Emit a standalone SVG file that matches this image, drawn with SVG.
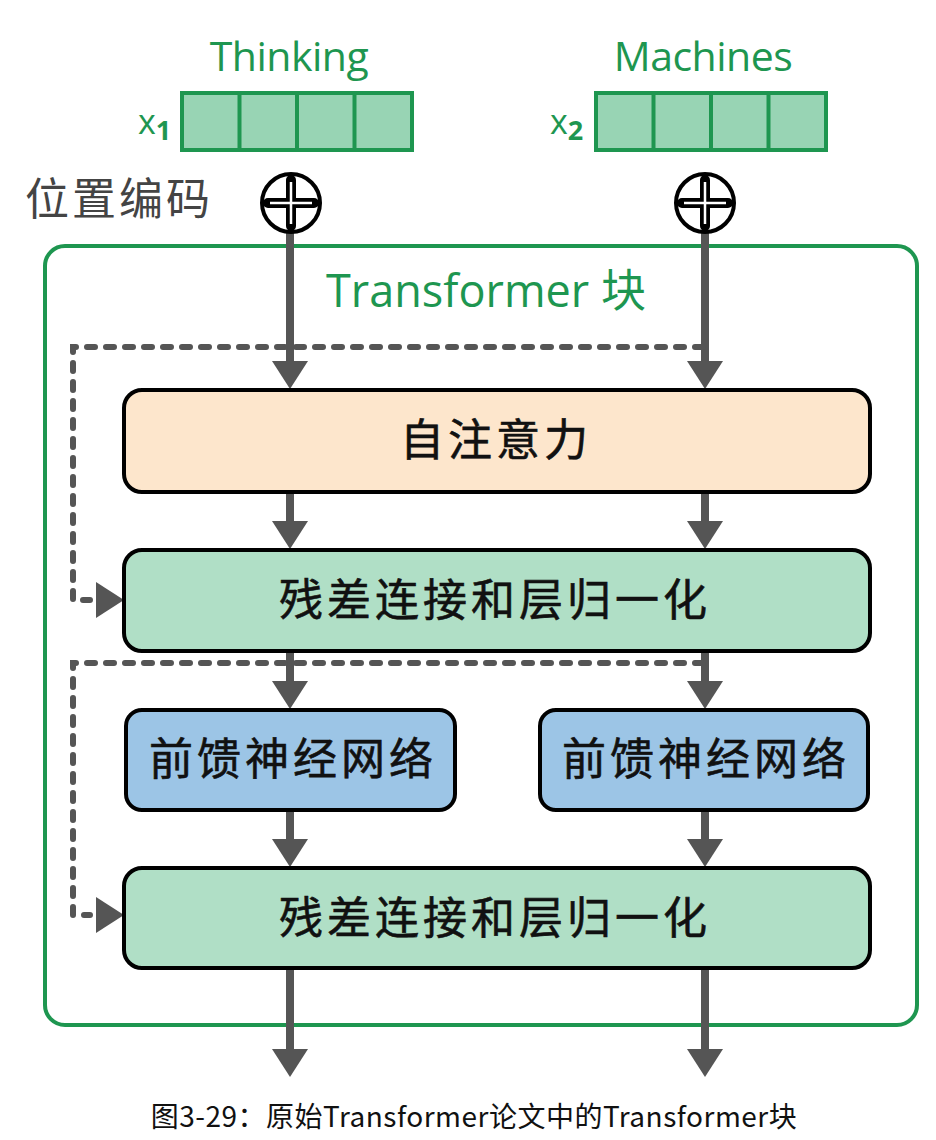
<svg xmlns="http://www.w3.org/2000/svg" width="936" height="1140" viewBox="0 0 936 1140">
<style>
.lat{font-family:"Open Sans","Noto Sans",sans-serif;fill:#1e9650}
.cjk{font-family:"Noto Sans CJK SC","Noto Sans",sans-serif}
.box{stroke:#000;stroke-width:4}
.vec{fill:#98d4b4;stroke:#1e9650;stroke-width:4}
.flow{stroke:#555;stroke-width:8;fill:none}
.dash{stroke:#555;stroke-width:6;fill:none;stroke-dasharray:8 11;stroke-linecap:round}
.lbl{font-size:44px;fill:#111;text-anchor:middle;letter-spacing:4px;stroke:#111;stroke-width:0.6px}
</style>
<defs>
<marker id="ah" markerUnits="userSpaceOnUse" viewBox="0 0 28 36" markerWidth="28" markerHeight="36" refX="1" refY="18" orient="auto">
<path d="M0,0 L28,18 L0,36 z" fill="#555"/>
</marker>
</defs>
<rect width="936" height="1140" fill="#fff"/>

<g id="input1">
<text class="lat" x="289" y="71" font-size="41" text-anchor="middle" letter-spacing="-0.5">Thinking</text>
<text class="lat" x="138" y="134" font-size="34">x<tspan font-size="27" font-weight="bold" dy="6">1</tspan></text>
<rect class="vec" x="182" y="93" width="230" height="57"/>
<path d="M239.5,93V150M297,93V150M354.5,93V150" stroke="#1e9650" stroke-width="4"/>
</g>
<g id="input2">
<text class="lat" x="703" y="71" font-size="41" text-anchor="middle" letter-spacing="-0.5">Machines</text>
<text class="lat" x="550" y="134" font-size="34">x<tspan font-size="27" font-weight="bold" dy="6">2</tspan></text>
<rect class="vec" x="596" y="93" width="230" height="57"/>
<path d="M653.5,93V150M711,93V150M768.5,93V150" stroke="#1e9650" stroke-width="4"/>
</g>

<g id="posenc">
<text class="cjk" x="25" y="215" font-size="44" fill="#444" letter-spacing="3">位置编码</text>
</g>

<g id="block">
<rect x="45" y="246" width="872" height="779" rx="20" fill="none" stroke="#1e9650" stroke-width="4"/>
<text x="486" y="307" font-size="45" text-anchor="middle" fill="#1e9650"><tspan font-family="Open Sans, Noto Sans, sans-serif">Transformer </tspan><tspan font-family="Noto Sans CJK SC, sans-serif">块</tspan></text>
</g>

<g id="connectors">
<path class="flow" d="M290,232V362" marker-end="url(#ah)"/>
<path class="flow" d="M705,232V362" marker-end="url(#ah)"/>
<path class="flow" d="M290,493V522" marker-end="url(#ah)"/>
<path class="flow" d="M705,493V522" marker-end="url(#ah)"/>
<path class="flow" d="M290,652V682" marker-end="url(#ah)"/>
<path class="flow" d="M705,652V682" marker-end="url(#ah)"/>
<path class="flow" d="M290,811V840" marker-end="url(#ah)"/>
<path class="flow" d="M705,811V840" marker-end="url(#ah)"/>
<path class="flow" d="M290,969V1050" marker-end="url(#ah)"/>
<path class="flow" d="M705,969V1050" marker-end="url(#ah)"/>
<path class="dash" d="M703,347H73V600H90"/>
<path class="dash" d="M703,663H73V915H90"/>
<path d="M96,582L124,600L96,618z" fill="#555"/>
<path d="M96,897L124,915L96,933z" fill="#555"/>
</g>

<g id="plus1">
<circle cx="291" cy="203" r="29" fill="#fff" stroke="#000" stroke-width="4"/>
<path d="M291,180V226M268,203H314" stroke="#000" stroke-width="10" stroke-linecap="round"/>
<path d="M291,182V224M270,203H312" stroke="#fff" stroke-width="2.5"/>
</g>
<g id="plus2">
<circle cx="705" cy="203" r="29" fill="#fff" stroke="#000" stroke-width="4"/>
<path d="M705,180V226M682,203H728" stroke="#000" stroke-width="10" stroke-linecap="round"/>
<path d="M705,182V224M684,203H726" stroke="#fff" stroke-width="2.5"/>
</g>

<g id="selfattn">
<rect class="box" x="124" y="390" width="746" height="102" rx="18" fill="#fde6cc"/>
<text class="cjk lbl" x="496" y="456">自注意力</text>
</g>
<g id="addnorm1">
<rect class="box" x="124" y="550" width="746" height="101" rx="18" fill="#b0dfc6"/>
<text class="cjk lbl" x="495" y="616">残差连接和层归一化</text>
</g>
<g id="ffn1">
<rect class="box" x="126" y="710" width="329" height="100" rx="16" fill="#9cc5e6"/>
<text class="cjk lbl" x="293" y="775">前馈神经网络</text>
</g>
<g id="ffn2">
<rect class="box" x="540" y="710" width="328" height="100" rx="16" fill="#9cc5e6"/>
<text class="cjk lbl" x="706" y="775">前馈神经网络</text>
</g>
<g id="addnorm2">
<rect class="box" x="124" y="868" width="746" height="100" rx="18" fill="#b0dfc6"/>
<text class="cjk lbl" x="495" y="934">残差连接和层归一化</text>
</g>

<g id="caption">
<text class="cjk" x="474" y="1127" font-size="28" fill="#111" text-anchor="middle" letter-spacing="0.5">图3-29：原始Transformer论文中的Transformer块</text>
</g>
</svg>
